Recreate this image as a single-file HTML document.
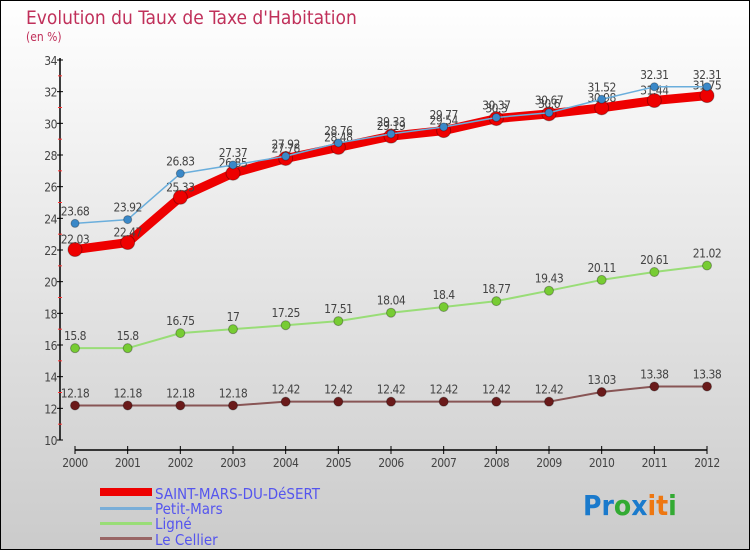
<!DOCTYPE html>
<html><head><meta charset="utf-8"><style>
body{margin:0}
svg{display:block;font-family:"DejaVu Sans Condensed","Liberation Sans",sans-serif}
</style></head><body>
<svg width="750" height="550" viewBox="0 0 750 550">
<defs><linearGradient id="bg" x1="0" y1="0" x2="0" y2="1"><stop offset="0" stop-color="#ffffff"/><stop offset="1" stop-color="#cbcbcb"/></linearGradient></defs>
<rect x="0.5" y="0.5" width="749" height="549" fill="url(#bg)" stroke="#000"/>
<text x="26" y="24" font-size="19" fill="#c0305a">Evolution du Taux de Taxe d'Habitation</text>
<text x="26" y="41" font-size="12" fill="#c0305a">(en %)</text>
<g id="axes"></g>
<g id="series"></g>
<g>
<rect x="100" y="488" width="52" height="8" fill="#e00"/>
<text x="155" y="499" font-size="15" fill="#5555ee">SAINT-MARS-DU-DéSERT</text>
<rect x="100" y="507" width="52" height="3" fill="#7aaed8"/>
<text x="155" y="514" font-size="15" fill="#5555ee">Petit-Mars</text>
<rect x="100" y="522" width="52" height="3" fill="#99dd77"/>
<text x="155" y="529" font-size="15" fill="#5555ee">Ligné</text>
<rect x="100" y="537" width="52" height="3" fill="#996666"/>
<text x="155" y="545" font-size="15" fill="#5555ee">Le Cellier</text>
</g>
<text x="583" y="515" font-size="28" font-weight="bold"><tspan fill="#1a7acc">Pr</tspan><tspan fill="#33aa33">o</tspan><tspan fill="#1a7acc">x</tspan><tspan fill="#ee7711">it</tspan><tspan fill="#33aa33">i</tspan></text>
</svg>
<script>
const years=[2000,2001,2002,2003,2004,2005,2006,2007,2008,2009,2010,2011,2012];
const saintMars=[22.03,22.47,25.33,26.85,27.78,28.48,29.19,29.54,30.3,30.6,30.98,31.44,31.75];
const petitMars=[23.68,23.92,26.83,27.37,27.92,28.76,29.33,29.77,30.37,30.67,31.52,32.31,32.31];
const ligne=[15.8,15.8,16.75,17,17.25,17.51,18.04,18.4,18.77,19.43,20.11,20.61,21.02];
const leCellier=[12.18,12.18,12.18,12.18,12.42,12.42,12.42,12.42,12.42,12.42,13.03,13.38,13.38];
const yTicks=[10,12,14,16,18,20,22,24,26,28,30,32,34];
const NS="http://www.w3.org/2000/svg";
const X=i=>75+i*(707-75)/(years.length-1);
const Y=v=>440-(v-10)*(440-60)/24;
function mk(tag,attrs,parent){const e=document.createElementNS(NS,tag);for(const k in attrs)e.setAttribute(k,attrs[k]);parent.appendChild(e);return e;}
const ax=document.getElementById('axes');
let yl=mk('line',{x1:60,y1:58,x2:60,y2:440,stroke:'#000','stroke-width':1.5},ax);


yTicks.forEach(t=>{
 mk('line',{x1:57,x2:63,y1:Y(t),y2:Y(t),stroke:'#000'},ax);
 if(t<34) mk('line',{x1:58,x2:62,y1:Y(t+1),y2:Y(t+1),stroke:'#f33'},ax);
 const tx=mk('text',{x:57,y:Y(t)+5,'font-size':12,fill:'#444','text-anchor':'end','letter-spacing':'-0.5'},ax);
 tx.textContent=t;
 
 
});
let xl=mk('line',{x1:75,y1:450,x2:707,y2:450,stroke:'#000','stroke-width':1.5},ax);


years.forEach((yr,i)=>{
 mk('line',{x1:X(i),x2:X(i),y1:446,y2:454,stroke:'#000'},ax);
 const tx=mk('text',{x:X(i),y:467,'font-size':12,fill:'#444','text-anchor':'middle','letter-spacing':'-0.5'},ax);
 tx.textContent=yr;
 
 
});
const sg=document.getElementById('series');
function series(vals,name,color,dot,lw,r,labelDy){
 const g=mk('g',{},sg);
 
 
 const pl=mk('polyline',{points:vals.map((v,i)=>X(i)+','+Y(v)).join(' '),fill:'none',stroke:color,'stroke-width':lw,'stroke-linejoin':'round'},g);
 
 
 vals.forEach((v,i)=>{
  const c=mk('circle',{cx:X(i),cy:Y(v),r:r,fill:dot,stroke:'rgba(0,0,0,0.3)'},g);
  
  
  const t=mk('text',{x:X(i),y:Y(v)+labelDy,'font-size':12,fill:'#444','text-anchor':'middle','letter-spacing':'-0.5'},g);
  t.textContent=v;
  
  
 });
}
series(leCellier,'le-cellier','#885555','#6a1a1a',2,4.5,-8);
series(ligne,'ligne','#99dd77','#77cc33',2,4.5,-8);
series(saintMars,'saint-mars','#ee0000','#ee0000',9,7,-6);
series(petitMars,'petit-mars','#6aaedc','#3a88c8',1.5,4,-8);
</script>
</body></html>
